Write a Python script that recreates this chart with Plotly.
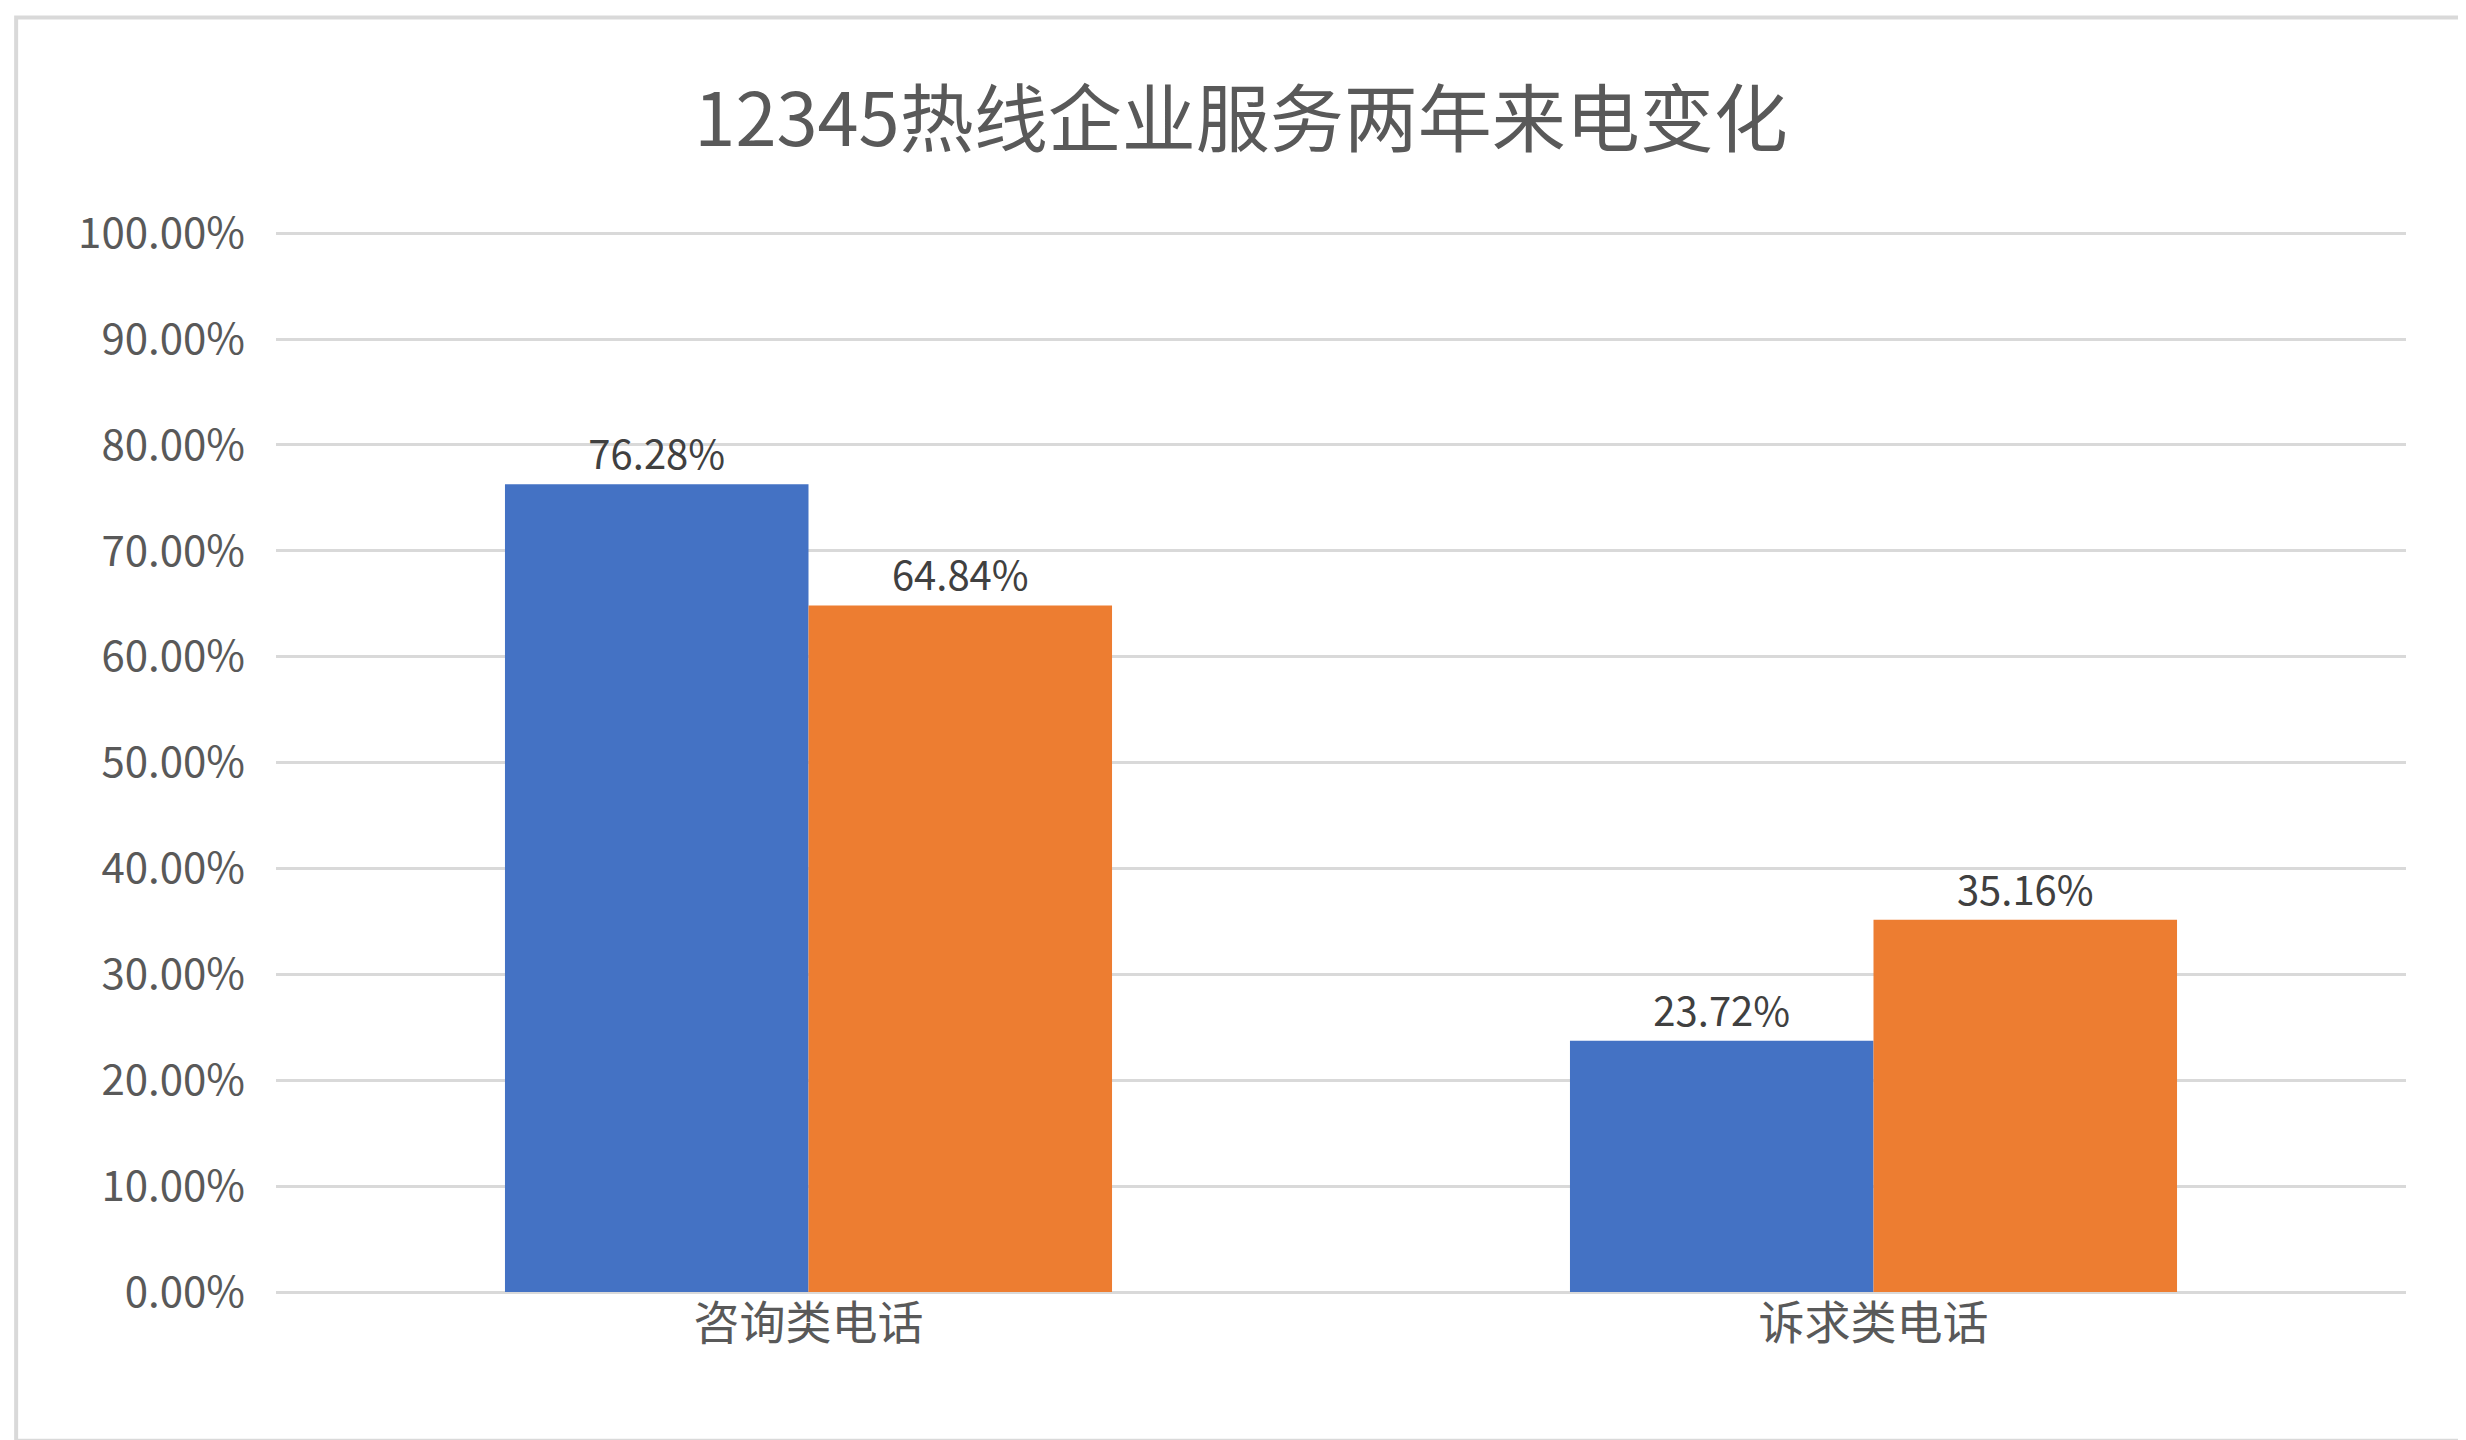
import plotly.graph_objects as go

categories = ["咨询类电话", "诉求类电话"]
series_a = [76.28, 23.72]
series_b = [64.84, 35.16]
tick_vals = [0, 10, 20, 30, 40, 50, 60, 70, 80, 90, 100]
tick_text = [f"{v:.2f}%" for v in tick_vals]

font = "Noto Sans CJK SC"
fig = go.Figure()
for vals, col in [(series_a, "#4472C4"), (series_b, "#ED7D31")]:
    fig.add_bar(x=categories, y=vals, marker_color=col, marker_line_width=0,
                text=[f"{v:.2f}%" for v in vals], textposition="outside",
                textfont=dict(size=40, color="#404040", family=font), cliponaxis=False)

fig.update_layout(
    width=2466, height=1440, barmode="group", bargap=0.43, bargroupgap=0,
    showlegend=False, plot_bgcolor="white", paper_bgcolor="white",
    margin=dict(l=268, r=68, t=222, b=156),
    title=dict(text="12345热线企业服务两年来电变化", x=0.5, y=0.94, xanchor="center",
               font=dict(size=74, color="#595959", family=font)),
    font=dict(family=font, color="#595959"),
    xaxis=dict(tickfont=dict(size=46, color="#595959"), showline=False, ticks=""),
    yaxis=dict(range=[0, 100.3], tickvals=tick_vals, ticktext=tick_text,
               tickfont=dict(size=42, color="#595959"), gridcolor="#D9D9D9",
               gridwidth=3, zeroline=True, zerolinecolor="#D9D9D9", zerolinewidth=3,
               ticklabelstandoff=30),
    shapes=[dict(type="rect", xref="paper", yref="paper", x0=-0.122, x1=1.026,
                 y0=-0.14, y1=1.2, line=dict(color="#D9D9D9", width=4))],
)
fig.write_html("out.html")
